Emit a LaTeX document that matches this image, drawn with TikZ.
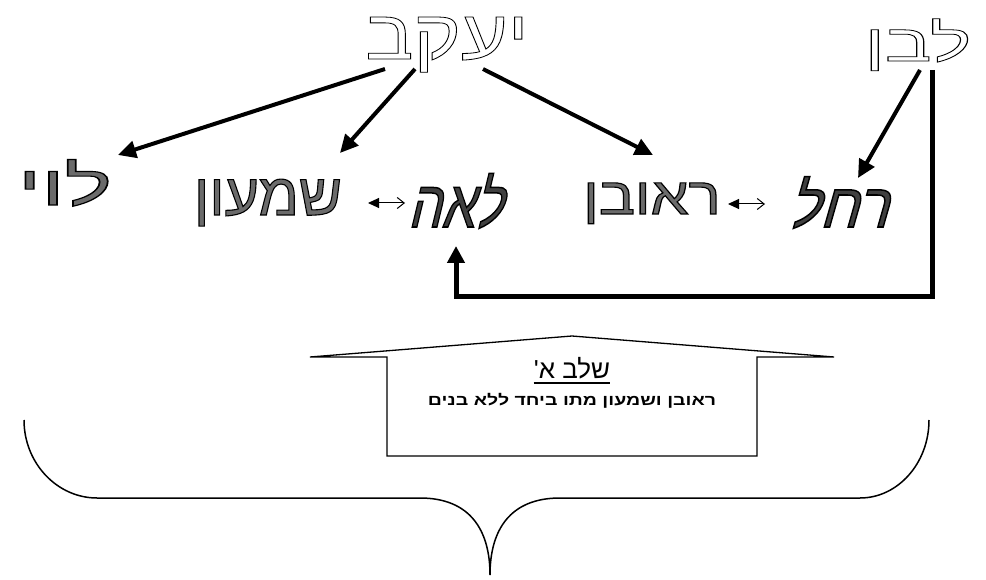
\documentclass[tikz,border=0pt]{standalone}
\usepackage{fontspec}
\usepackage{xcolor}
\usetikzlibrary{arrows.meta,calc}
\TeXXeTstate=1
\newfontfamily\heb[Script=Hebrew]{Liberation Sans}
\newfontfamily\hebslant[Script=Hebrew,FakeSlant=0.3]{Liberation Sans}
\newcommand{\outlinetext}[1]{\special{pdf:literal direct 0 G 1 Tr 0.8 w}#1\special{pdf:literal direct 0 Tr}}
\newcommand{\shadedtext}[1]{\special{pdf:literal direct 0.42 g 0 G 2 Tr 1.1 w}#1\special{pdf:literal direct 0 g 0 Tr}}
\newcommand{\cursivetext}[1]{\special{pdf:literal direct 0.25 g 0 G 2 Tr 1.5 w}#1\special{pdf:literal direct 0 g 0 Tr}}
\tikzset{
  word/.style={inner sep=0pt, anchor=base},
  bigarrow/.style={line width=4pt, -{Triangle[length=18pt,width=17pt]}},
  elbowarrow/.style={line width=5pt, -{Triangle[length=17pt,width=17pt]}},
  smallarrow/.style={line width=1pt, {Triangle[length=11pt,width=10pt]}-{Straight Barb[length=7pt,width=11pt]}},
}
\begin{document}
\begin{tikzpicture}[x=1pt,y=-1pt]
\useasboundingbox (0,0) rectangle (986,580);
% names
\node[word,xscale=1.15,font=\heb\fontsize{70}{70}\selectfont] (yaakov) at (447,59) {\outlinetext{\beginR יעקב\endR}};
\node[word,xscale=1.5,font=\heb\fontsize{52}{52}\selectfont] (lavan) at (918,61) {\outlinetext{\beginR לבן\endR}};
\node[word,xscale=1.6,font=\heb\fontsize{56}{56}\selectfont] (levi) at (65,205) {\shadedtext{\beginR לוי\endR}};
\node[word,xscale=1.0,font=\heb\fontsize{59}{59}\selectfont] (shimon) at (268,215) {\shadedtext{\beginR שמעון\endR}};
\node[word,xscale=0.8,font=\hebslant\fontsize{66}{66}\selectfont] (leah) at (455,227) {\cursivetext{\beginR לאה\endR}};
\node[word,xscale=1.16,font=\heb\fontsize{52}{52}\selectfont] (reuven) at (652,214) {\shadedtext{\beginR ראובן\endR}};
\node[word,xscale=0.95,font=\hebslant\fontsize{62}{62}\selectfont] (rachel) at (838,227) {\cursivetext{\beginR רחל\endR}};
% arrow end points
\coordinate (yk1) at (385,69);
\coordinate (yk2) at (415,69);
\coordinate (yk3) at (483,69);
\coordinate (levitip) at (118,155);
\coordinate (shimontip) at (340,153);
\coordinate (reuventip) at (653,155);
\coordinate (lv1) at (920,70);
\coordinate (racheltip) at (858,178);
\coordinate (lv2) at (932,70);
\coordinate (leahtip) at (456,246);
\draw[bigarrow] (yk1) -- (levitip);
\draw[bigarrow] (yk2) -- (shimontip);
\draw[bigarrow] (yk3) -- (reuventip);
\draw[bigarrow] (lv1) -- (racheltip);
\draw[elbowarrow] (lv2) -- (932,297) -- (456,297) -- (leahtip);
% small double arrows
\coordinate (sa1) at (368,203);
\coordinate (sa2) at (405,203);
\coordinate (sb1) at (728,204);
\coordinate (sb2) at (765,204);
\draw[smallarrow] (sa1) -- (sa2);
\draw[smallarrow] (sb1) -- (sb2);
% callout
\draw[line width=1.3pt, line join=miter] (387,456) -- (387,357) -- (310,357) -- (572,336) -- (834,357) -- (757,357) -- (757,456) -- cycle;
\node[inner sep=0pt, anchor=base, font=\heb\fontsize{26}{26}\selectfont] (stage) at (572,378) {\beginR שלב א'\endR};
\draw[line width=1.3pt] ($(stage.base west)+(0,5)$) -- ($(stage.base east)+(0,5)$);
\node[inner sep=0pt, anchor=base, xscale=1.3, font=\heb\bfseries\fontsize{15}{15}\selectfont] (note) at (572,405) {\beginR ראובן ושמעון מתו ביחד ללא בנים\endR};
% brace
\draw[line width=1.5pt] (24,420) .. controls (24,463) and (57,498) .. (97,498) -- (420,498)
  .. controls (470,498) and (490,530) .. (490,575)
  .. controls (490,530) and (510,498) .. (560,498) -- (860,498)
  .. controls (898,498) and (929,463) .. (929,420);
\end{tikzpicture}
\end{document}
